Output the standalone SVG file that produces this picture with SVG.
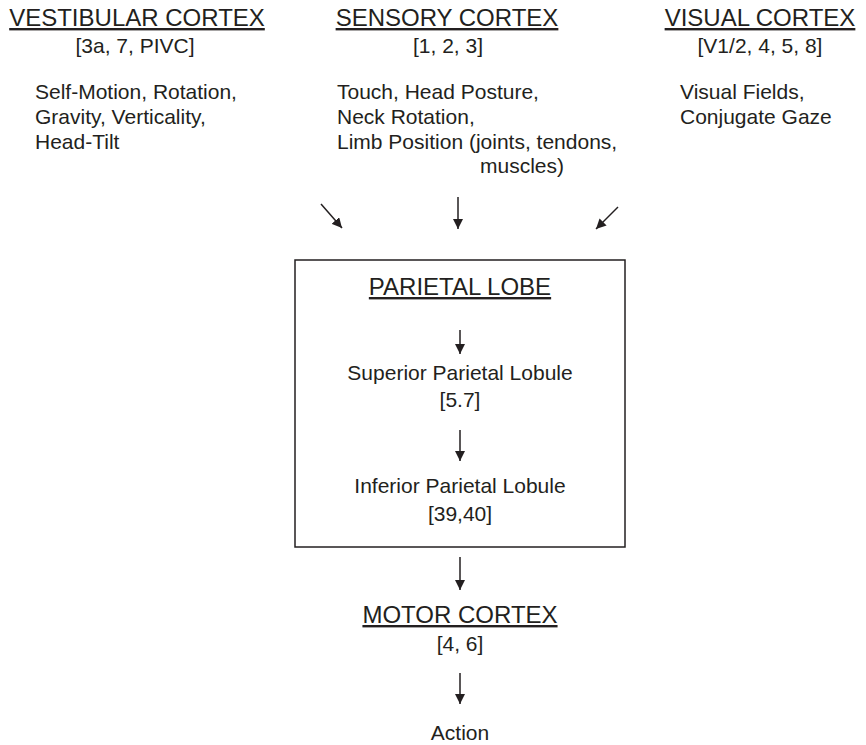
<svg xmlns="http://www.w3.org/2000/svg" width="866" height="745" viewBox="0 0 866 745">
<style>
text{font-family:"Liberation Sans",Arial,sans-serif;fill:#231f20}
.h{font-size:24px;text-decoration:underline}
.b{font-size:21px}
.c{text-anchor:middle}
.ln{stroke:#231f20;stroke-width:1.5;fill:none}
</style>
<defs>
<marker id="ah" viewBox="0 0 10 10" refX="10" refY="5" markerWidth="10" markerHeight="10" markerUnits="userSpaceOnUse" orient="auto">
<path d="M0,0 L10,5 L0,10 z" fill="#231f20"/>
</marker>
</defs>
<rect width="866" height="745" fill="#fff"/>
<g id="vestibular">
<text class="h c" x="137" y="26">VESTIBULAR CORTEX</text>
<text class="b c" x="135" y="53">[3a, 7, PIVC]</text>
<text class="b" x="35" y="99">Self-Motion, Rotation,</text>
<text class="b" x="35" y="124">Gravity, Verticality,</text>
<text class="b" x="35" y="149">Head-Tilt</text>
</g>
<g id="sensory">
<text class="h c" x="447" y="26">SENSORY CORTEX</text>
<text class="b c" x="448" y="53">[1, 2, 3]</text>
<text class="b" x="337" y="99">Touch, Head Posture,</text>
<text class="b" x="337" y="124">Neck Rotation,</text>
<text class="b" x="337" y="149">Limb Position (joints, tendons,</text>
<text class="b" x="480" y="173">muscles)</text>
</g>
<g id="visual">
<text class="h c" x="760" y="26">VISUAL CORTEX</text>
<text class="b c" x="760" y="53">[V1/2, 4, 5, 8]</text>
<text class="b" x="680" y="99">Visual Fields,</text>
<text class="b" x="680" y="124">Conjugate Gaze</text>
</g>
<g id="parietal">
<rect class="ln" x="295" y="260" width="330" height="287"/>
<text class="h c" x="460" y="295">PARIETAL LOBE</text>
</g>
<g id="superior">
<text class="b c" x="460" y="380">Superior Parietal Lobule</text>
<text class="b c" x="460" y="407">[5.7]</text>
</g>
<g id="inferior">
<text class="b c" x="460" y="493">Inferior Parietal Lobule</text>
<text class="b c" x="460" y="521">[39,40]</text>
</g>
<g id="motor">
<text class="h c" x="460" y="623">MOTOR CORTEX</text>
<text class="b c" x="460" y="651">[4, 6]</text>
</g>
<g id="action">
<text class="b c" x="460" y="740">Action</text>
</g>
<g id="connectors">
<line class="ln" x1="321" y1="204" x2="342" y2="228" marker-end="url(#ah)"/>
<line class="ln" x1="458" y1="197" x2="458" y2="229" marker-end="url(#ah)"/>
<line class="ln" x1="618" y1="207" x2="596" y2="229" marker-end="url(#ah)"/>
<line class="ln" x1="460" y1="330" x2="460" y2="354" marker-end="url(#ah)"/>
<line class="ln" x1="460" y1="430" x2="460" y2="461" marker-end="url(#ah)"/>
<line class="ln" x1="460" y1="557" x2="460" y2="590" marker-end="url(#ah)"/>
<line class="ln" x1="460" y1="673" x2="460" y2="704" marker-end="url(#ah)"/>
</g>
</svg>
